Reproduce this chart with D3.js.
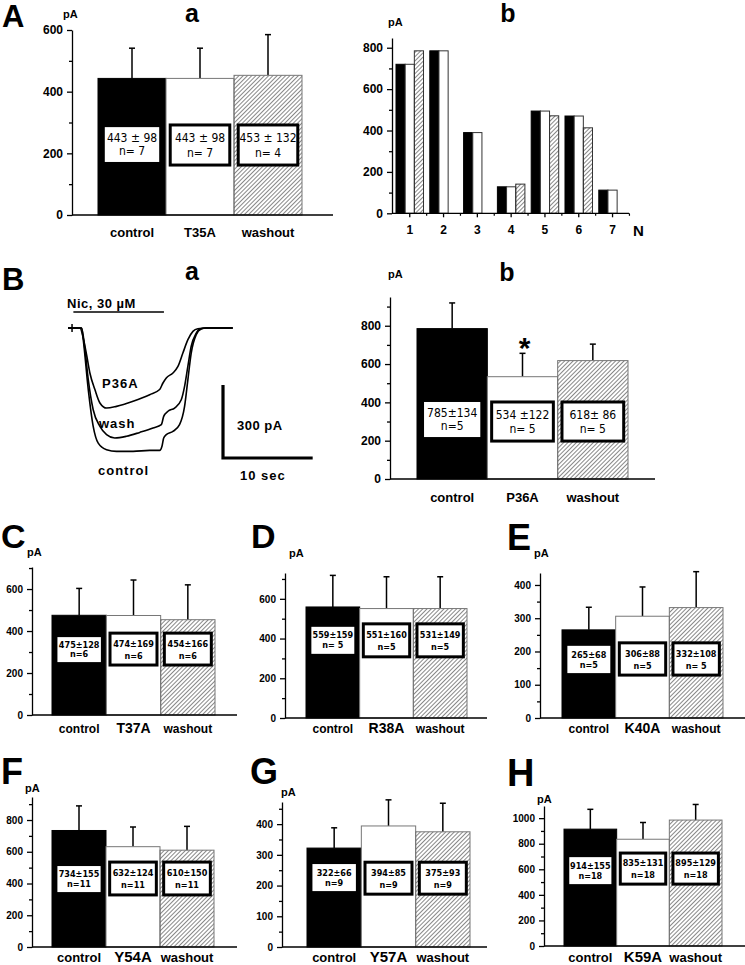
<!DOCTYPE html>
<html>
<head>
<meta charset="utf-8">
<script src="https://cdn.jsdelivr.net/npm/d3@7"></script>
<style>
  body { margin: 0; background: #fff; }
  svg { display: block; font-family: "Liberation Sans", Arial, sans-serif; }
  .tick text { font-weight: bold; }
</style>
</head>
<body>
<script>
// ---- data ----
const conditions = ["control", "mutant", "washout"];
const mutants  = ["T35A", "P36A", "T37A", "R38A", "K40A", "Y54A", "Y57A", "K59A"];
const meanVals = [[443, 443, 453], [785, 534, 618], [475, 474, 454], [559, 551, 551],
                  [265, 306, 332], [734, 632, 610], [322, 394, 375], [914, 835, 985]];
const errVals  = [[98, 98, 132], [134, 122, 86], [128, 169, 166], [159, 160, 160],
                  [68, 88, 108], [155, 124, 150], [66, 85, 93], [155, 131, 122]];
const statText = [["443 ± 98", "443 ± 98", "453 ± 132"], ["785±134", "534 ±122", "618± 86"],
                  ["475±128", "474±169", "454±166"], ["559±159", "551±160", "531±149"],
                  ["265±68", "306±88", "332±108"], ["734±155", "632±124", "610±150"],
                  ["322±66", "394±85", "375±93"], ["914±155", "835±131", "895±129"]];
const nText    = [["n= 7", "n= 7", "n= 4"], ["n=5", "n= 5", "n= 5"], ["n=6", "n=6", "n=6"],
                  ["n= 5", "n=5", "n=5"], ["n=5", "n=5", "n= 5"], ["n=11", "n=11", "n=11"],
                  ["n=9", "n=9", "n=9"], ["n=18", "n=18", "n=18"]];

// A b: single cells
const cellIds     = ["1", "2", "3", "4", "5", "6", "7"];
const cellControl = [720, 785, 390, 128, 494, 470, 112];
const cellT35A    = [720, 785, 390, 128, 494, 470, 112];
const cellWash    = [785, null, null, 141, 471, 413, null];

// B a: current traces [time s, current pA]
const traceControl = [[0,0],[1.52,0],[1.7,-48],[2.26,-253],[2.81,-404],[3.37,-473],[4.3,-500],
  [5.41,-507],[7.26,-507],[9.11,-503],[10.22,-503],[10.48,-486],[10.67,-452],[10.96,-438],
  [11.7,-425],[12.44,-397],[13.0,-322],[13.37,-212],[13.74,-103],[14.3,-27],[14.85,-4],
  [15.41,0],[18.37,0]];
const traceWash = [[0,0],[1.52,0],[1.89,-89],[2.26,-212],[2.81,-336],[3.56,-404],[4.3,-438],
  [5.22,-452],[6.52,-445],[8.0,-429],[9.48,-411],[10.41,-397],[10.67,-363],[11.15,-342],
  [11.89,-329],[12.63,-295],[13.0,-240],[13.37,-157],[13.74,-75],[14.3,-21],[14.67,-4],
  [15.41,0],[18.37,0]];
const traceP36A = [[0,0],[1.33,0],[1.7,-41],[2.07,-110],[2.44,-185],[3.0,-253],[3.56,-308],
  [4.3,-329],[5.41,-322],[7.26,-301],[9.11,-274],[10.22,-253],[10.59,-226],[10.96,-205],
  [11.7,-185],[12.26,-158],[12.81,-103],[13.37,-48],[13.93,-14],[14.48,-3],[15.41,0],[18.37,0]];
const nicOn = [0.6, 10.7];

// ---- layout (pixels) ----
const layouts = [
  {ax: 72,  xEnd: 333, b0: 98,  b1: 302, y0: 215, yTop: 30,  top: 600,  major: 200, minor: 100,
   boxC: [172, 285], boxO: [162, 292], tick: 12, cat: [13, 13, 13], catY: 237, txt: 12,
   letter: "A", lx: 2, ly: 27, ls: 31, pa: [63, 18], title: ["a", 192, 22]},
  {ax: 390, xEnd: 655, b0: 417, b1: 628, y0: 479, yTop: 297, top: 950,  major: 200, minor: 100,
   boxC: [219, 402], boxO: [198, 402], tick: 12, cat: [13, 13, 13], catY: 502, txt: 12,
   pa: [388, 278], title: ["b", 507, 281]},
  {ax: 32,  xEnd: 237, b0: 52,  b1: 215, y0: 715, yTop: 567, top: 705,  major: 200, minor: 100,
   boxC: [252, 371], boxO: [238, 390], tick: 10, cat: [12, 14, 12], catY: 733, txt: 9,
   letter: "C", lx: 1, ly: 548, ls: 34, pa: [27, 556]},
  {ax: 285, xEnd: 487, b0: 306, b1: 467, y0: 718, yTop: 573, top: 730,  major: 200, minor: 100,
   boxC: [323, 459], boxO: [308, 474], tick: 10, cat: [12, 14, 12], catY: 733, txt: 9,
   letter: "D", lx: 251, ly: 548, ls: 34, pa: [289, 557]},
  {ax: 540, xEnd: 745, b0: 562, b1: 723, y0: 718, yTop: 573, top: 436,  major: 100, minor: 50,
   boxC: [135, 217], boxO: [129, 226], tick: 10, cat: [12, 14, 12], catY: 733, txt: 9,
   letter: "E", lx: 507, ly: 550, ls: 36, pa: [534, 557]},
  {ax: 32,  xEnd: 237, b0: 52,  b1: 214, y0: 947, yTop: 797, top: 945,  major: 200, minor: 100,
   boxC: [346, 510], boxO: [328, 535], tick: 10, cat: [13, 15, 13], catY: 962, txt: 9,
   letter: "F", lx: 1, ly: 784, ls: 36, pa: [25, 792]},
  {ax: 282, xEnd: 487, b0: 307, b1: 470, y0: 947, yTop: 802, top: 472,  major: 100, minor: 50,
   boxC: [182, 270], boxO: [172, 276], tick: 10, cat: [13, 15, 13], catY: 962, txt: 9,
   letter: "G", lx: 250, ly: 784, ls: 36, pa: [281, 796]},
  {ax: 544, xEnd: 745, b0: 564, b1: 722, y0: 946, yTop: 806, top: 1095, major: 200, minor: 100,
   boxC: [484, 695], boxO: [484, 727], tick: 10, cat: [13, 15, 13], catY: 962, txt: 9,
   letter: "H", lx: 507, ly: 786, ls: 38, pa: [537, 803]}
];

const svg = d3.select("body").append("svg")
  .attr("width", 745).attr("height", 965);

svg.append("defs").append("pattern")
    .attr("id", "hatch")
    .attr("patternUnits", "userSpaceOnUse")
    .attr("width", 3).attr("height", 3)
    .attr("patternTransform", "rotate(45)")
  .append("line")
    .attr("x1", 0).attr("y1", 0).attr("x2", 0).attr("y2", 3)
    .attr("stroke", "#111").attr("stroke-width", 1);

const fills = ["#000", "#fff", "url(#hatch)"];
const strokes = ["#000", "#777", "#777"];

function yAxis(g, y, cfg) {
  const major = d3.range(0, cfg.top + 1, cfg.major);
  const minor = d3.range(cfg.minor, cfg.top + 1, cfg.major);
  g.append("g").attr("transform", `translate(${cfg.ax},0)`)
    .call(d3.axisLeft(y).tickValues(minor).tickSize(3).tickSizeOuter(0).tickFormat(""))
    .call(a => a.select(".domain").remove());
  const ax = g.append("g").attr("transform", `translate(${cfg.ax},0)`)
    .call(d3.axisLeft(y).tickValues(major).tickSize(5).tickSizeOuter(0).tickPadding(4)
      .tickFormat(d3.format("d")));
  ax.selectAll("text").attr("font-size", cfg.tick).attr("fill", "#000");
  ax.selectAll("line, path").attr("stroke", "#000").attr("stroke-width", 1.3);
  g.selectAll(".tick line").attr("stroke", "#000").attr("stroke-width", 1.3);
  g.append("line").attr("x1", cfg.ax).attr("x2", cfg.xEnd)
    .attr("y1", y(0)).attr("y2", y(0)).attr("stroke", "#000").attr("stroke-width", 1.3);
}

function barPanel(i) {
  const cfg = layouts[i];
  const g = svg.append("g");
  const x = d3.scaleBand().domain(conditions).range([cfg.b0, cfg.b1]);
  const y = d3.scaleLinear().domain([0, cfg.top]).range([cfg.y0, cfg.yTop]);
  const rows = conditions.map((c, j) => ({
    c, j, m: meanVals[i][j], e: errVals[i][j], s: statText[i][j], n: nText[i][j]
  }));

  // error bars
  const bw = x.bandwidth();
  rows.forEach(d => {
    const cx = x(d.c) + bw / 2;
    g.append("line").attr("x1", cx).attr("x2", cx).attr("y1", y(d.m)).attr("y2", y(d.m + d.e))
      .attr("stroke", "#000").attr("stroke-width", 1.5);
    g.append("line").attr("x1", cx - 3).attr("x2", cx + 3)
      .attr("y1", y(d.m + d.e)).attr("y2", y(d.m + d.e))
      .attr("stroke", "#000").attr("stroke-width", 1.5);
  });

  g.selectAll("rect.bar").data(rows).join("rect").attr("class", "bar")
    .attr("x", d => x(d.c)).attr("width", bw)
    .attr("y", d => y(d.m)).attr("height", d => y(0) - y(d.m))
    .attr("fill", d => fills[d.j]).attr("stroke", d => strokes[d.j]).attr("stroke-width", 1);

  yAxis(g, y, cfg);

  // value boxes
  rows.forEach(d => {
    const rng = d.j === 0 ? cfg.boxC : cfg.boxO;
    const inset = d.j === 0 ? bw * 0.1 : bw * 0.04 + 1.5;
    const bx = x(d.c) + inset, bwid = bw - 2 * inset;
    const by = y(rng[1]), bh = y(rng[0]) - y(rng[1]);
    g.append("rect").attr("x", bx).attr("y", by).attr("width", bwid).attr("height", bh)
      .attr("fill", "#fff")
      .attr("stroke", d.j === 0 ? "none" : "#000").attr("stroke-width", 3);
    const t = g.append("g").attr("font-family", "'Liberation Sans Narrow','DejaVu Sans Condensed',sans-serif")
      .attr("font-size", cfg.txt).attr("font-weight", cfg.txt < 10 ? "bold" : "normal")
      .attr("text-anchor", "middle");
    t.append("text").attr("x", bx + bwid / 2).attr("y", by + bh * 0.43).text(d.s);
    t.append("text").attr("x", bx + bwid / 2).attr("y", by + bh * 0.8).text(d.n);
  });

  // category labels
  g.selectAll("text.cat").data(rows).join("text").attr("class", "cat")
    .attr("x", d => x(d.c) + bw / 2).attr("y", cfg.catY)
    .attr("text-anchor", "middle").attr("font-weight", "bold")
    .attr("font-size", d => cfg.cat[d.j])
    .text(d => d.j === 1 ? mutants[i] : d.c);

  if (cfg.letter) {
    svg.append("text").attr("x", cfg.lx).attr("y", cfg.ly).attr("font-size", cfg.ls)
      .attr("font-weight", "bold").text(cfg.letter);
  }
  svg.append("text").attr("x", cfg.pa[0]).attr("y", cfg.pa[1]).attr("font-size", 11)
    .attr("font-weight", "bold").text("pA");
  if (cfg.title) {
    svg.append("text").attr("x", cfg.title[1]).attr("y", cfg.title[2]).attr("font-size", 25)
      .attr("font-weight", "bold").attr("text-anchor", "middle").text(cfg.title[0]);
  }
  return {x, y};
}

layouts.forEach((c, i) => barPanel(i));

// significance star in B b
{
  const cfg = layouts[1];
  const x = d3.scaleBand().domain(conditions).range([cfg.b0, cfg.b1]);
  svg.append("text").attr("x", x("mutant") + x.bandwidth() / 2 + 2).attr("y", 358)
    .attr("text-anchor", "middle").attr("font-size", 30).attr("font-weight", "bold").text("*");
}

// ---- A b: individual cells ----
{
  const g = svg.append("g");
  const x0 = d3.scaleBand().domain(cellIds).range([396, 626.3]).paddingInner(0.186);
  const x1 = d3.scaleBand().domain(conditions).range([0, x0.bandwidth()]);
  const y = d3.scaleLinear().domain([0, 847]).range([213.3, 38]);
  const series = [cellControl, cellT35A, cellWash];
  const rows = [];
  cellIds.forEach((id, k) => conditions.forEach((c, j) => {
    if (series[j][k] != null) rows.push({id, c, j, v: series[j][k]});
  }));
  g.selectAll("rect").data(rows).join("rect")
    .attr("x", d => x0(d.id) + x1(d.c)).attr("width", x1.bandwidth())
    .attr("y", d => y(d.v)).attr("height", d => y(0) - y(d.v))
    .attr("fill", d => fills[d.j]).attr("stroke", d => d.j === 0 ? "#000" : "#333")
    .attr("stroke-width", 1);
  yAxis(g, y, {ax: 392, xEnd: 629, top: 847, major: 200, minor: 100, tick: 12});
  // x axis ticks and labels
  const xa = g.append("g").attr("transform", "translate(0,213.3)");
  cellIds.forEach(id => {
    const cx = x0(id) + x0.bandwidth() / 2;
    xa.append("line").attr("x1", cx).attr("x2", cx).attr("y1", 0).attr("y2", 4)
      .attr("stroke", "#000").attr("stroke-width", 1.3);
    xa.append("line").attr("x1", cx + x0.step() / 2).attr("x2", cx + x0.step() / 2)
      .attr("y1", 0).attr("y2", 2.5).attr("stroke", "#000").attr("stroke-width", 1.2);
    xa.append("text").attr("x", cx).attr("y", 21).attr("text-anchor", "middle")
      .attr("font-size", 12).attr("font-weight", "bold").text(id);
  });
  xa.append("text").attr("x", 633).attr("y", 23).attr("font-size", 15)
    .attr("font-weight", "bold").text("N");
  svg.append("text").attr("x", 388).attr("y", 26).attr("font-size", 11)
    .attr("font-weight", "bold").text("pA");
  svg.append("text").attr("x", 508).attr("y", 22).attr("font-size", 25)
    .attr("font-weight", "bold").attr("text-anchor", "middle").text("b");
}

// ---- B a: traces ----
{
  const g = svg.append("g");
  const tx = d3.scaleLinear().domain([0, 18.4]).range([68, 233]);
  const ty = d3.scaleLinear().domain([-300, 0]).range([401, 328]);
  const line = d3.line().x(d => tx(d[0])).y(d => ty(d[1])).curve(d3.curveMonotoneX);
  [traceControl, traceWash, traceP36A].forEach(tr => {
    g.append("path").attr("d", line(tr)).attr("fill", "none")
      .attr("stroke", "#000").attr("stroke-width", 1.6);
  });
  g.append("line").attr("x1", tx(0.45)).attr("x2", tx(0.45)).attr("y1", ty(0) - 4).attr("y2", ty(0) + 4)
    .attr("stroke", "#000").attr("stroke-width", 1.5);
  // application bar
  g.append("line").attr("x1", tx(nicOn[0])).attr("x2", tx(nicOn[1])).attr("y1", 312).attr("y2", 312)
    .attr("stroke", "#000").attr("stroke-width", 1.6);
  g.append("text").attr("x", 67).attr("y", 308).attr("font-size", 13).attr("font-weight", "bold")
    .attr("letter-spacing", 0.5).text("Nic, 30 µM");
  // scale bars
  const sx = 223, sy = 458;
  g.append("path")
    .attr("d", `M${sx},${sy - (ty(-300) - ty(0))}V${sy}H${sx + tx(10) - tx(0)}`)
    .attr("fill", "none").attr("stroke", "#000").attr("stroke-width", 3.2);
  g.append("text").attr("x", 237).attr("y", 430).attr("font-size", 13).attr("font-weight", "bold")
    .attr("letter-spacing", 0.5).text("300 pA");
  g.append("text").attr("x", 240).attr("y", 480).attr("font-size", 13).attr("font-weight", "bold")
    .attr("letter-spacing", 1).text("10 sec");
  [["P36A", 102, 388], ["wash", 99, 428], ["control", 98, 475]].forEach(l => {
    g.append("text").attr("x", l[1]).attr("y", l[2]).attr("font-size", 13)
      .attr("font-weight", "bold").attr("letter-spacing", 1).text(l[0]);
  });
  svg.append("text").attr("x", 2).attr("y", 290).attr("font-size", 31)
    .attr("font-weight", "bold").text("B");
  svg.append("text").attr("x", 192).attr("y", 280).attr("font-size", 25)
    .attr("font-weight", "bold").attr("text-anchor", "middle").text("a");
}
</script>
</body>
</html>
